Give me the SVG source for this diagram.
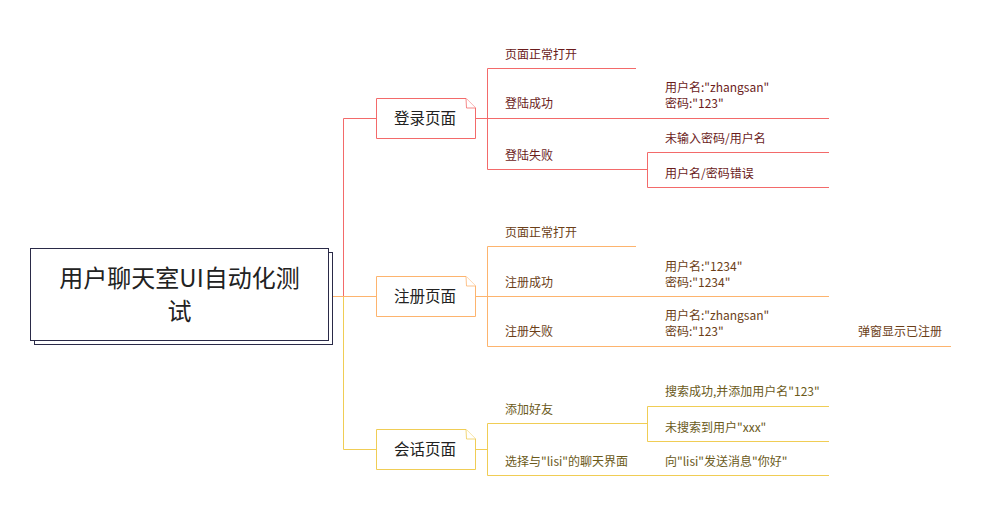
<svg xmlns="http://www.w3.org/2000/svg" width="983" height="527" viewBox="0 0 983 527">
<style>
text{font-family:"Noto Sans CJK SC","Microsoft YaHei","Noto Sans",sans-serif}
.t{font-size:12px}
.lr{fill:#6b1c1c}.lo{fill:#6b3e17}.ly{fill:#6b5a1a}
.box{font-size:15.5px;fill:#222;text-anchor:middle}
.r{stroke:#f36a6a;fill:none;stroke-width:1}
.o{stroke:#fdb46e;fill:none;stroke-width:1}
.y{stroke:#f0cd55;fill:none;stroke-width:1}
</style>
<rect width="983" height="527" fill="#fff"/>
<g id="connectors">
<path class="r" d="M343.5,296 V118.5 H376"/>
<path class="y" d="M343.5,296 V449.5 H376"/>
<path class="o" d="M332,296.5 H376"/>
<path class="r" d="M476,118.5 H829 M487.5,118.5 V68.5 H636 M487.5,118.5 V169.5 H647.5 M647.5,152.5 V187.5 M647.5,152.5 H829 M647.5,187.5 H829"/>
<path class="o" d="M476,296.5 H829 M487.5,296.5 V246.5 H636 M487.5,296.5 V346.5 H951"/>
<path class="y" d="M476,449.5 H487.5 M487.5,423.5 V475.5 M487.5,423.5 H647.5 M487.5,475.5 H829 M647.5,406.5 V441.5 M647.5,406.5 H829 M647.5,441.5 H829"/>
</g>
<g id="root">
<rect x="34.5" y="252.5" width="298" height="92" fill="#fff" stroke="#2a2a48"/>
<rect x="30.5" y="248.5" width="298" height="92" fill="#fff" stroke="#2a2a48"/>
<text x="179.5" y="287" font-size="24" fill="#222" text-anchor="middle">用户聊天室UI自动化测</text>
<text x="179.5" y="320" font-size="24" fill="#222" text-anchor="middle">试</text>
</g>
<g id="login">
<path d="M376.5,98.5 H466 L475.5,108 V138.5 H376.5 Z" fill="#fff" stroke="#f36a6a"/>
<path d="M466,98.5 L466.5,108 L475.5,108" fill="#fff" stroke="#f36a6a" stroke-width="0.8"/>
<text class="box" x="425" y="124">登录页面</text>
</g>
<g id="register">
<path d="M376.5,276.5 H466 L475.5,286 V316.5 H376.5 Z" fill="#fff" stroke="#fdb46e"/>
<path d="M466,276.5 L466.5,286 L475.5,286" fill="#fff" stroke="#fdb46e" stroke-width="0.8"/>
<text class="box" x="425" y="302">注册页面</text>
</g>
<g id="chat">
<path d="M376.5,429.5 H466 L475.5,439 V469.5 H376.5 Z" fill="#fff" stroke="#f0cd55"/>
<path d="M466,429.5 L466.5,439 L475.5,439" fill="#fff" stroke="#f0cd55" stroke-width="0.8"/>
<text class="box" x="425" y="455">会话页面</text>
</g>
<g id="login-items">
<text class="t lr" x="505" y="59">页面正常打开</text>
<text class="t lr" x="505" y="108">登陆成功</text>
<text class="t lr" x="665" y="92">用户名:"zhangsan"</text>
<text class="t lr" x="665" y="108">密码:"123"</text>
<text class="t lr" x="505" y="160">登陆失败</text>
<text class="t lr" x="665" y="143">未输入密码/用户名</text>
<text class="t lr" x="665" y="178">用户名/密码错误</text>
</g>
<g id="register-items">
<text class="t lo" x="505" y="237">页面正常打开</text>
<text class="t lo" x="505" y="287">注册成功</text>
<text class="t lo" x="665" y="271">用户名:"1234"</text>
<text class="t lo" x="665" y="287">密码:"1234"</text>
<text class="t lo" x="505" y="336">注册失败</text>
<text class="t lo" x="665" y="320">用户名:"zhangsan"</text>
<text class="t lo" x="665" y="336">密码:"123"</text>
<text class="t lo" x="858" y="336">弹窗显示已注册</text>
</g>
<g id="chat-items">
<text class="t ly" x="505" y="414">添加好友</text>
<text class="t ly" x="665" y="396">搜索成功,并添加用户名"123"</text>
<text class="t ly" x="665" y="432">未搜索到用户"xxx"</text>
<text class="t ly" x="505" y="466">选择与"lisi"的聊天界面</text>
<text class="t ly" x="665" y="466">向"lisi"发送消息"你好"</text>
</g>
</svg>
